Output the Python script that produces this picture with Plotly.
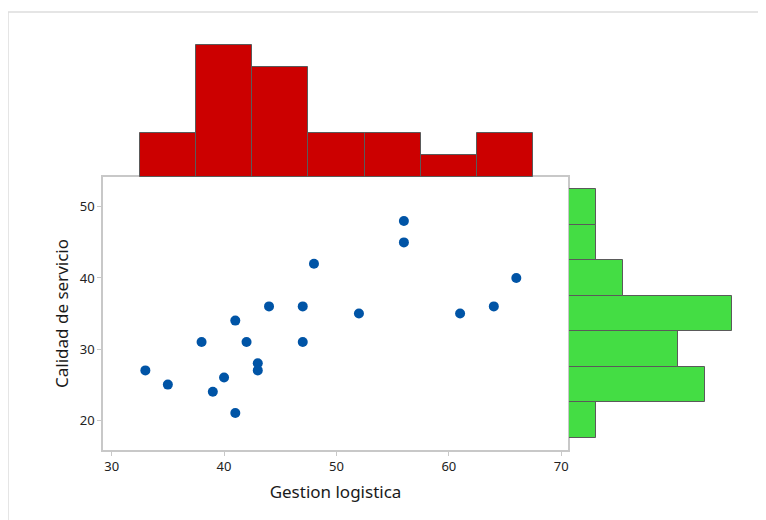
import plotly.graph_objects as go

W, H = 766, 520
OFF = 8  # page body margin offset

gestion_logistica = [33, 35, 38, 39, 40, 41, 41, 42, 43, 43, 44, 47, 47, 48, 52, 56, 56, 61, 64, 66]
calidad_servicio = [27, 25, 31, 24, 26, 34, 21, 31, 28, 27, 36, 36, 31, 42, 35, 48, 45, 35, 36, 40]
x_ticks = [30, 40, 50, 60, 70]
y_ticks = [20, 30, 40, 50]

def fx(px):
    return (px - OFF) / W

def fy(py):
    return 1 - (py - OFF) / H

font_fam = "Noto Sans, Open Sans, sans-serif"
axis_gray = "#c8c8c8"

fig = go.Figure()

fig.add_trace(go.Scatter(
    x=gestion_logistica, y=calidad_servicio, mode="markers",
    marker=dict(color="#0054A6", size=10),
    xaxis="x", yaxis="y", showlegend=False,
))

fig.add_trace(go.Histogram(
    x=gestion_logistica, xbins=dict(start=32.5, end=67.5, size=5),
    marker=dict(color="#CC0000", line=dict(color="#5a5a5a", width=1)),
    xaxis="x2", yaxis="y2", showlegend=False,
))

fig.add_trace(go.Histogram(
    y=calidad_servicio, ybins=dict(start=17.5, end=52.5, size=5),
    marker=dict(color="#44DD44", line=dict(color="#5a5a5a", width=1)),
    xaxis="x3", yaxis="y3", showlegend=False,
))

x_range = [29.23, 70.6]
y_range = [15.8, 54.2]

fig.update_layout(
    width=W, height=H,
    margin=dict(l=0, r=0, t=0, b=0),
    paper_bgcolor="white", plot_bgcolor="white",
    bargap=0,
    font=dict(family=font_fam, color="#333333"),
    xaxis=dict(
        domain=[fx(103), fx(568)], range=x_range, anchor="y",
        tickvals=x_ticks, ticks="outside", ticklen=4, tickcolor=axis_gray,
        showline=True, linecolor=axis_gray, linewidth=1.5, mirror=True,
        showgrid=False, zeroline=False,
        tickfont=dict(size=13, color="#222222"),
        title=dict(text="Gestion logistica", font=dict(size=17, color="#1a1a1a"), standoff=12),
    ),
    yaxis=dict(
        domain=[fy(450), fy(177)], range=y_range, anchor="x",
        tickvals=y_ticks, ticks="outside", ticklen=4, tickcolor=axis_gray,
        showline=True, linecolor=axis_gray, linewidth=1.5, mirror=True,
        showgrid=False, zeroline=False,
        tickfont=dict(size=13, color="#222222"),
        title=dict(text="Calidad de servicio", font=dict(size=17, color="#1a1a1a"), standoff=7),
    ),
    xaxis2=dict(
        domain=[fx(103), fx(568)], range=x_range, anchor="y2",
        visible=False, showgrid=False, zeroline=False,
    ),
    yaxis2=dict(
        domain=[fy(177), fy(40)], range=[0, 6 * 137 / 132], anchor="x2",
        visible=False, showgrid=False, zeroline=False,
    ),
    xaxis3=dict(
        domain=[fx(569), fx(745)], range=[0, 6 * 176 / 163.3], anchor="y3",
        visible=False, showgrid=False, zeroline=False,
    ),
    yaxis3=dict(
        domain=[fy(450), fy(177)], range=y_range, anchor="x3",
        visible=False, showgrid=False, zeroline=False,
    ),
    shapes=[
        dict(type="line", xref="paper", yref="paper",
             x0=fx(8), x1=1, y0=fy(12), y1=fy(12),
             line=dict(color="#dddddd", width=1.5)),
        dict(type="line", xref="paper", yref="paper",
             x0=fx(8), x1=fx(8), y0=fy(12), y1=0,
             line=dict(color="#dddddd", width=1.5)),
    ],
)

fig.write_html("out.html")
